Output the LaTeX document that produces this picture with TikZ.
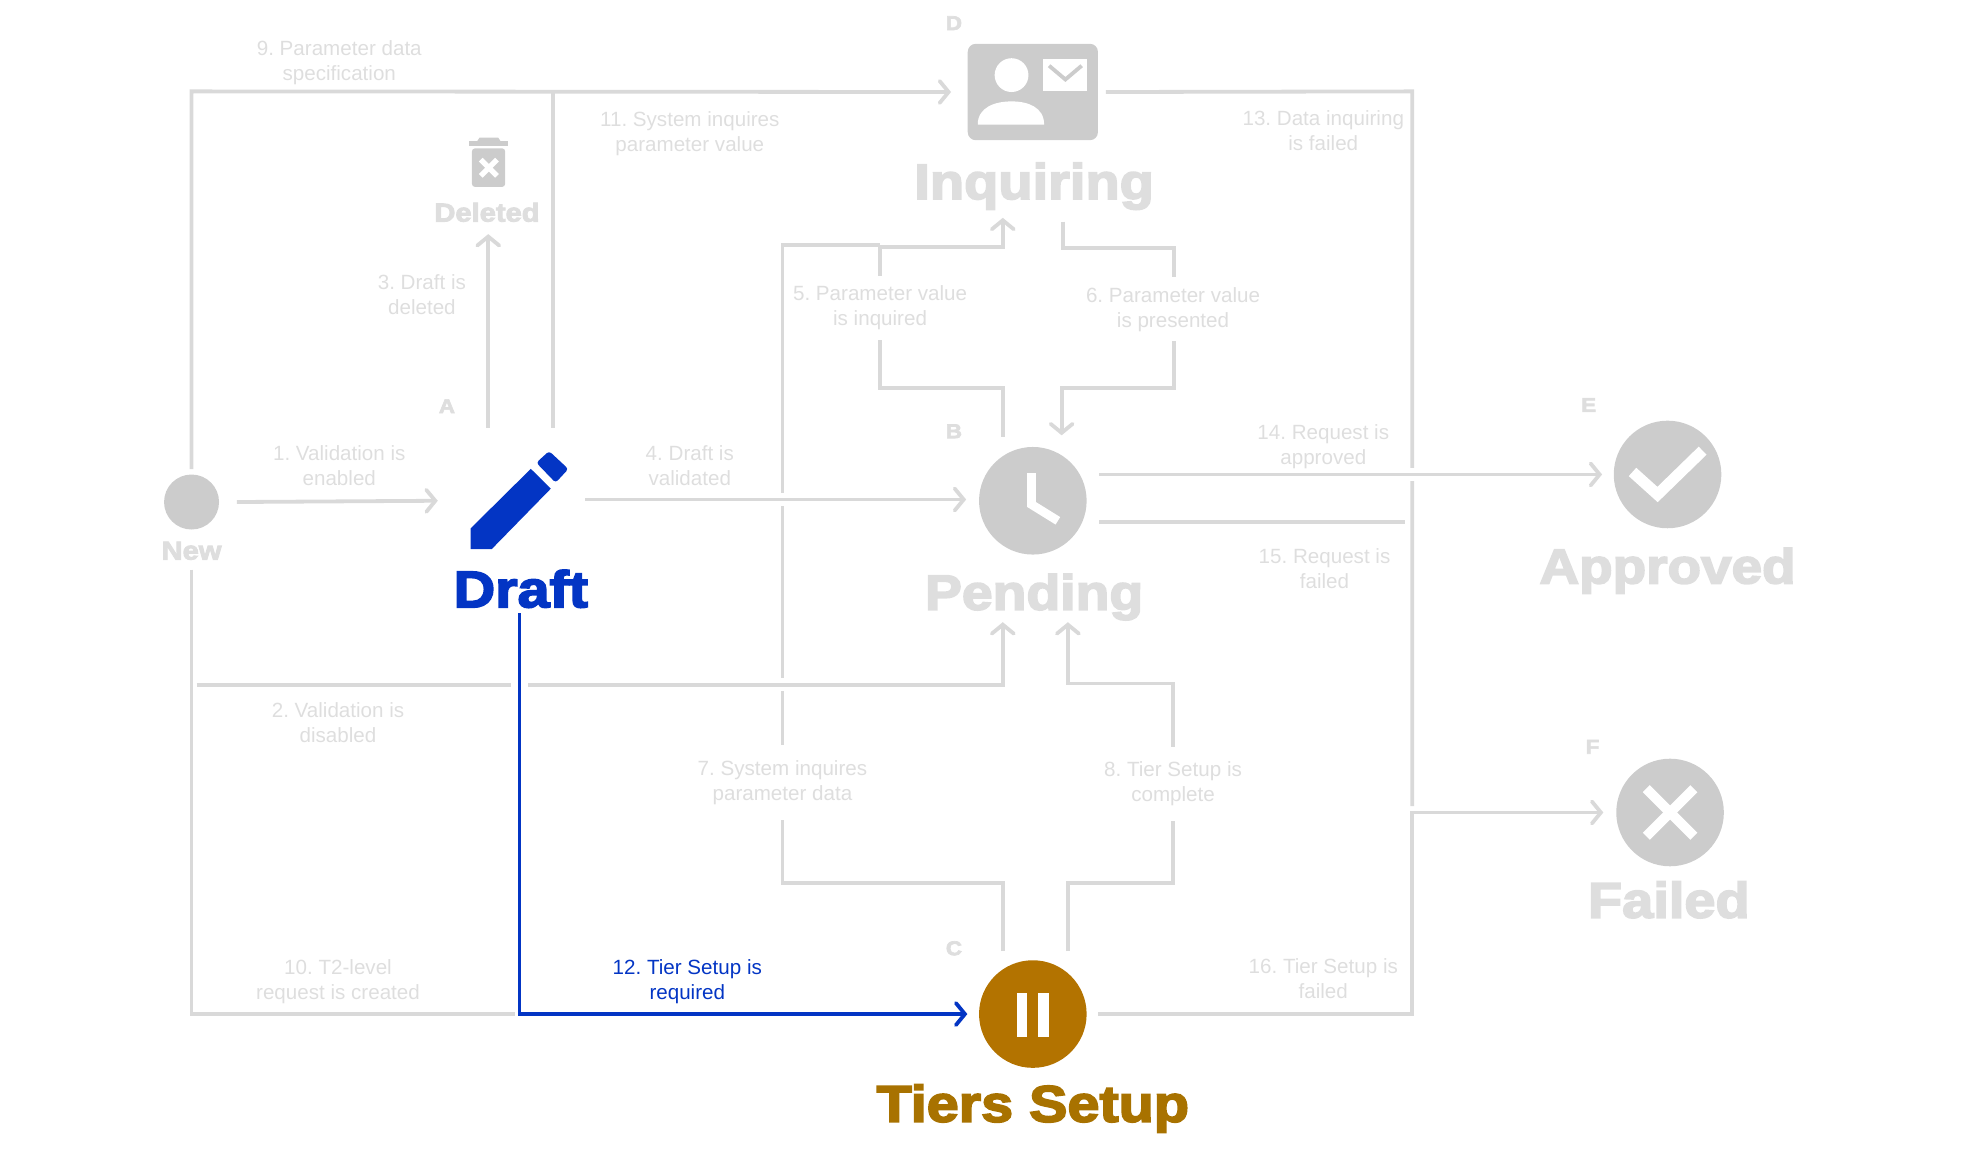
\documentclass[tikz,border=0pt]{standalone}
\usepackage{fontspec}
\setmainfont{Liberation Sans}
\newfontfamily\blackfont[FakeBold=3.5,FakeStretch=1.12]{Liberation Sans Bold}
\usetikzlibrary{arrows.meta, positioning, calc}
\definecolor{lineGray}{HTML}{D9D9D9}
\definecolor{iconGray}{HTML}{CCCCCC}
\definecolor{textGray}{HTML}{DEDEDE}
\definecolor{draftBlue}{HTML}{0335C4}
\definecolor{setupBrown}{HTML}{B37300}
\definecolor{setupText}{HTML}{A87200}
\tikzset{
    statecircle/.style={
        circle, minimum size=53.8pt, inner sep=0pt, fill=iconGray
    },
    statename/.style={
        anchor=base, inner sep=0pt, text=textGray, font=\blackfont\fontsize{#1}{25}\selectfont
    },
    statename/.default=25,
    smallname/.style={
        anchor=base, inner sep=0pt, text=textGray, font=\blackfont\fontsize{13}{13}\selectfont
    },
    stateletter/.style={
        anchor=base, inner sep=0pt, text=textGray, font=\blackfont\fontsize{10}{10}\selectfont
    },
    edgetext/.style={
        align=center, inner sep=0pt, text=textGray, font=\frenchspacing\fontsize{10.3}{12.5}\selectfont
    },
    edgecut/.style={
        edgetext, fill=white, inner xsep=2pt, inner ysep=#1
    },
    arrow/.style={
        line width=1.9pt, draw=lineGray, ->, >={Straight Barb[length=4.5pt,width=11pt,line cap=round]}
    },
    edge/.style={
        line width=1.9pt, draw=lineGray
    },
    halo/.style={
        preaction={draw=white, line width=6.5pt, -}
    },
    pencil/.pic={
        % Body
        \fill[draftBlue] (-39,22) -- (9,-25.5) -- (25,-9.7) -- (-22.3,38.7) -- (-39,38.7) -- cycle;
        % Cap
        \fill[draftBlue, rounded corners=1.5pt] (13.4,-30.4) -- (23.6,-39.7) -- (39,-25.4) -- (28.8,-14.4) -- cycle;
    },
    trash/.pic={
        % Lid
        \fill[iconGray] (-15,-20.6) rectangle (15.5,-16);
        \fill[iconGray] (-9,-20) -- (-7,-23) -- (8,-23) -- (10,-20) -- cycle;
        % Can
        \fill[iconGray, rounded corners=1.5pt] (-13,-14.5) rectangle (13.5,16.3);
        % Cross
        \draw[white, line width=2.6pt] (-6,-5.5) -- (7,7.5);
        \draw[white, line width=2.6pt] (7,-5.5) -- (-6,7.5);
    },
    contact/.pic={
        % Card
        \fill[iconGray, rounded corners=4pt] (-52,-38.5) rectangle (52,38.5);
        % Head
        \fill[white] (-17,-13.5) ellipse (13.5 and 13.5);
        % Shoulders
        \fill[white] (-44,26) .. controls (-44,12) and (-30,7.5) .. (-17,7.5) .. controls (-4,7.5) and (9,12) .. (9,26) -- cycle;
        % Envelope
        \fill[white] (8,-26.5) rectangle (43,-0.5);
        \draw[iconGray, line width=1.9pt] (13,-21) -- (26,-10) -- (39,-21);
    }
}

\begin{document}
\begin{tikzpicture}[x=0.626pt, y=-0.626pt]
    \useasboundingbox (0,0) rectangle (1568,936);

    % States
    \node[statecircle, minimum size=27.5pt] (new) at (153,401) {};
    \node[smallname] (newname) at (153,447) {New};
    \node[minimum width=62.6pt, minimum height=72.6pt, inner sep=0pt] (draft) at (415,400) {};
    \pic at (415,400) {pencil};
    \node[statename=25.7, text=draftBlue] (draftname) at (416,485) {Draft};
    \node[stateletter] (letterA) at (357,330) {A};
    \node[minimum width=19pt, minimum height=25pt, inner sep=0pt] (deleted) at (390,130) {};
    \pic at (390,133) {trash};
    \node[smallname] (deletedname) at (389,177) {Deleted};
    \node[minimum width=65.1pt, minimum height=48.2pt, inner sep=0pt] (inquiring) at (825,73.5) {};
    \pic at (825,73.5) {contact};
    \node[statename] (inquiringname) at (826,159) {Inquiring};
    \node[stateletter] (letterD) at (762,24) {D};
    \node[statecircle] (pending) at (825,400) {};
    \draw[white, line width=4.4pt] (824,378) -- (824,403) -- (845,416);
    \node[statename=24.7] (pendingname) at (826,487) {Pending};
    \node[stateletter] (letterB) at (762,350) {B};
    \node[statecircle, fill=setupBrown] (tiers) at (825,810) {};
    \fill[white] (812,793) rectangle (820.6,828);
    \fill[white] (829.4,793) rectangle (838,828);
    \node[statename=25.7, text=setupText] (tiersname) at (825,896) {Tiers Setup};
    \node[stateletter] (letterC) at (762,763) {C};
    \node[statecircle] (approved) at (1332,379) {};
    \draw[white, line width=5.6pt] (1304,377) -- (1324,395) -- (1360,360);
    \node[statename=24.5] (approvedname) at (1332,466) {Approved};
    \node[stateletter] (letterE) at (1269,329) {E};
    \node[statecircle] (failed) at (1334,649) {};
    \draw[white, line width=5pt] (1315,630) -- (1353,668);
    \draw[white, line width=5pt] (1353,630) -- (1315,668);
    \node[statename] (failedname) at (1333,733) {Failed};
    \node[stateletter] (letterF) at (1272,602) {F};

    % Transitions
    \draw[arrow] ($(new.east)+(14,0)$) -- ($(draft.west)+(-15,0)$);
    \draw[arrow] ($(draft.north)+(-25,0)$) -- ($(deletedname.base)+(1,10)$);
    \draw[edge] ($(draft.north)+(27,0)$) -- (442,73);
    \draw[arrow] ($(new.north)+(0,-4)$) -- (153,73) -- ($(inquiring.west)+(-13,0)$);
    \draw[edge] ($(newname.base)+(0,8)$) -- (153,810) -- (411,810);
    % parameter value loop
    \draw[arrow] ($(pending.north)+(-24,-8)$) -- (801,310) -- (703,310) -- (703,197) -- (801,197) -- ($(inquiringname.base)+(-25,15)$);
    \draw[arrow] ($(inquiringname.base)+(23,18)$) -- (849,198) -- (938,198) -- (938,310) -- (848,310) -- ($(pending.north)+(23,-9)$);
    % tier setup loop
    \draw[edge] ($(tiers.north)+(-24,-7)$) -- (801,705) -- (625,705) -- (625,196) -- (703,196);
    \draw[arrow] ($(tiers.north)+(28,-7)$) -- (853,705) -- (937,705) -- (937,546) -- (853,546) -- ($(pendingname.base)+(27,10)$);
    % failure bus
    \draw[edge] ($(inquiring.east)+(6,0)$) -- (1128,73) -- (1128,644);
    \draw[arrow] ($(tiers.east)+(9,0)$) -- (1128,810) -- (1128,649) -- ($(failed.west)+(-10,0)$);
    % crossing lines
    \draw[arrow, halo] ($(draft.east)+(2,-1)$) -- ($(pending.west)+(-10,-1)$);
    \draw[arrow, halo] (157,547) -- (408,547) (422,547) -- (801,547) -- ($(pendingname.base)+(-25,10)$);
    \draw[arrow, halo] ($(pending.center)+(53,-21)$) -- ($(approved.west)+(-9,0)$);
    \draw[edge] ($(pending.center)+(53,17)$) -- (1122,417);

    % Labels
    \node[edgetext] (t1) at (271,372) {1. Validation is\\enabled};
    \node[edgetext] (t2) at (270,577) {2. Validation is\\disabled};
    \node[edgetext] (t3) at (337,235) {3. Draft is\\deleted};
    \node[edgetext] (t4) at (551,372) {4. Draft is\\validated};
    \node[edgecut=5pt] (t5) at (703,246) {5. Parameter value\\is inquired};
    \node[edgecut=5pt] (t6) at (937,247) {6. Parameter value\\is presented};
    \node[edgecut=7.5pt] (t7) at (625,625) {7. System inquires\\parameter data};
    \node[edgecut=7.5pt] (t8) at (937,626) {8. Tier Setup is\\complete};
    \node[edgetext] (t9) at (271,50) {9. Parameter data\\specification};
    \node[edgetext] (t10) at (270,784) {10. T2-level\\request is created};
    \node[edgetext] (t11) at (551,107) {11. System inquires\\parameter value};
    \node[edgetext] (t13) at (1057,104) {13. Data inquiring\\is failed};
    \node[edgetext] (t14) at (1057,357) {14. Request is\\approved};
    \node[edgetext] (t15) at (1058,454) {15. Request is\\failed};
    \node[edgetext] (t16) at (1057,782) {16. Tier Setup is\\failed};

    % Active transition
    \draw[arrow, draw=draftBlue] ($(draftname.base)+(-1,5)$) -- (415,810) -- ($(tiers.west)+(-9,0)$);
    \node[edgetext, text=draftBlue] (t12) at (549,784) {12. Tier Setup is\\required};

\end{tikzpicture}
\end{document}
